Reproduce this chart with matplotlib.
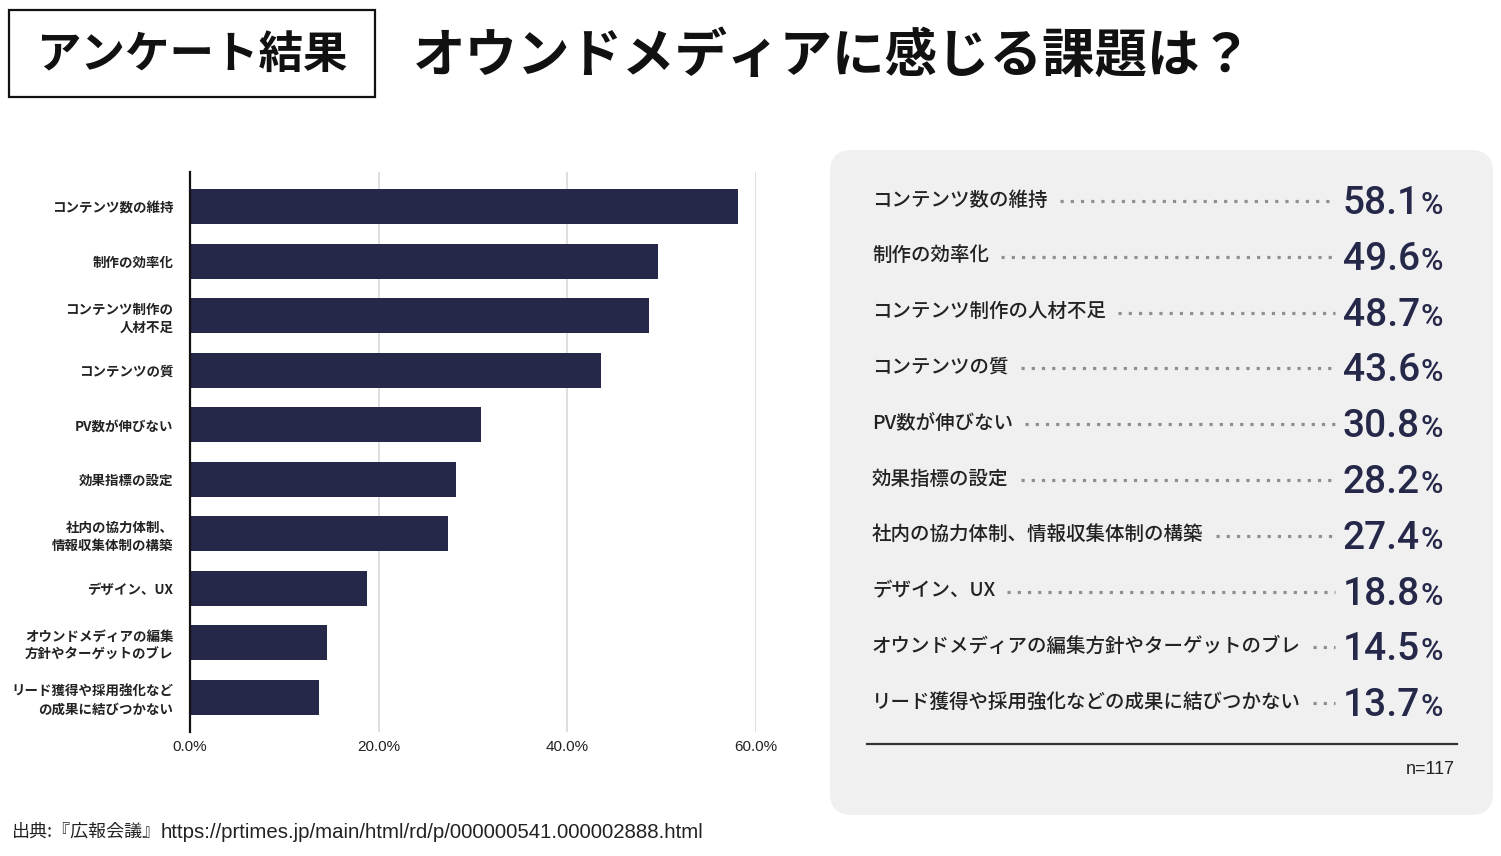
import matplotlib
matplotlib.use("Agg")
import matplotlib.pyplot as plt
from matplotlib.patches import FancyBboxPatch, Rectangle

plt.rcParams['font.family'] = ['Noto Sans CJK JP', 'DejaVu Sans']
LATIN = ["Liberation Sans", "DejaVu Sans"]

# ---- data ----
chart_labels = ["コンテンツ数の維持", "制作の効率化", "コンテンツ制作の\n人材不足", "コンテンツの質",
                "PV数が伸びない", "効果指標の設定", "社内の協力体制、\n情報収集体制の構築",
                "デザイン、UX", "オウンドメディアの編集\n方針やターゲットのブレ",
                "リード獲得や採用強化など\nの成果に結びつかない"]
panel_labels = ["コンテンツ数の維持", "制作の効率化", "コンテンツ制作の人材不足", "コンテンツの質",
                "PV数が伸びない", "効果指標の設定", "社内の協力体制、情報収集体制の構築",
                "デザイン、UX", "オウンドメディアの編集方針やターゲットのブレ",
                "リード獲得や採用強化などの成果に結びつかない"]
values = [58.1, 49.6, 48.7, 43.6, 30.8, 28.2, 27.4, 18.8, 14.5, 13.7]
x_ticks = [0, 20, 40, 60]
x_ticklabels = ["0.0%", "20.0%", "40.0%", "60.0%"]
title_tag = "アンケート結果"
title = "オウンドメディアに感じる課題は？"
sample_note = "n=117"
source_head = "出典:『広報会議』"
source_url = "https://prtimes.jp/main/html/rd/p/000000541.000002888.html"

W, H = 1501, 856
BAR = "#252849"
fig = plt.figure(figsize=(W / 100, H / 100), dpi=100)

# overlay axes in pixel coordinates
ov = fig.add_axes([0, 0, 1, 1])
ov.set_xlim(0, W)
ov.set_ylim(H, 0)
ov.axis("off")

# title
ov.add_patch(Rectangle((9, 10), 366, 87, fill=False, edgecolor="#111111", lw=1.6))
ov.text(192, 55, title_tag, fontsize=32, fontweight="bold", color="#111111",
        ha="center", va="center")
ov.text(413, 57, title, fontsize=37.8, fontweight="bold", color="#111111",
        ha="left", va="center")

# bar chart
ax_l, ax_r, ax_t, ax_b = 190, 756, 172, 732
ax = fig.add_axes([ax_l / W, 1 - ax_b / H, (ax_r - ax_l) / W, (ax_b - ax_t) / H])
ypos = list(range(len(values)))
ax.barh(ypos, values, height=0.64, color=BAR, zorder=3)
ax.set_xlim(0, 60)
ax.set_ylim(len(values) - 1 + 0.64, -0.64)
ax.set_xticks(x_ticks)
ax.set_xticklabels(x_ticklabels, fontsize=11, color="#222222", family=LATIN)
ax.set_yticks(ypos)
ax.set_yticklabels(chart_labels, fontsize=9.7, fontweight="bold", color="#222222",
                   linespacing=1.35)
ax.tick_params(axis="both", length=0)
ax.tick_params(axis="y", pad=12)
ax.tick_params(axis="x", pad=6)
ax.grid(axis="x", color="#d9d9d9", lw=1.2, zorder=0)
for s in ["top", "right", "bottom"]:
    ax.spines[s].set_visible(False)
ax.spines["left"].set_color("#111111")
ax.spines["left"].set_linewidth(1.6)
ax.spines["left"].set_zorder(4)

# right panel
ov.add_patch(FancyBboxPatch((830 + 22, 150 + 22), 663 - 44, 665 - 44,
                            boxstyle="round,pad=22", facecolor="#f0f0f0",
                            edgecolor="none"))
row0, step = 200, 55.8
label_texts = []
for i, (lab, v) in enumerate(zip(panel_labels, values)):
    y = row0 + i * step
    t = ov.text(872, y, lab, fontsize=14, color="#222222", ha="left",
                va="center", fontweight="medium")
    label_texts.append((t, y))
    ov.text(1420, y + 14, f"{v:.1f}", fontsize=28, family="Roboto",
            fontweight="medium", color=BAR, ha="right", va="baseline")
    ov.text(1421, y + 14, "%", fontsize=22, family="Roboto",
            fontweight="medium", color=BAR, ha="left", va="baseline")

fig.canvas.draw()
r = fig.canvas.get_renderer()
inv = ov.transData.inverted()
for t, y in label_texts:
    bb = t.get_window_extent(r)
    x_end = inv.transform((bb.x1, bb.y0))[0]
    ov.plot([x_end + 12, 1335], [y + 1, y + 1], color="#8f8f8f", lw=2.3,
            linestyle=(0, (1, 2.2)), dash_capstyle="butt", solid_capstyle="butt")

ov.plot([867, 1457], [744, 744], color="#333333", lw=1.6)
ov.text(1455, 770, sample_note, fontsize=13, color="#222222", ha="right",
        va="center", family=LATIN)

# source
th = ov.text(12, 832, source_head, fontsize=13, color="#222222", ha="left", va="center")
fig.canvas.draw()
bb = th.get_window_extent(fig.canvas.get_renderer())
x_url = inv.transform((bb.x1, bb.y0))[0]
ov.text(x_url, 832, source_url, fontsize=14.7, color="#222222", ha="left",
        va="center", family=LATIN)

fig.savefig("out.png", dpi=100)
